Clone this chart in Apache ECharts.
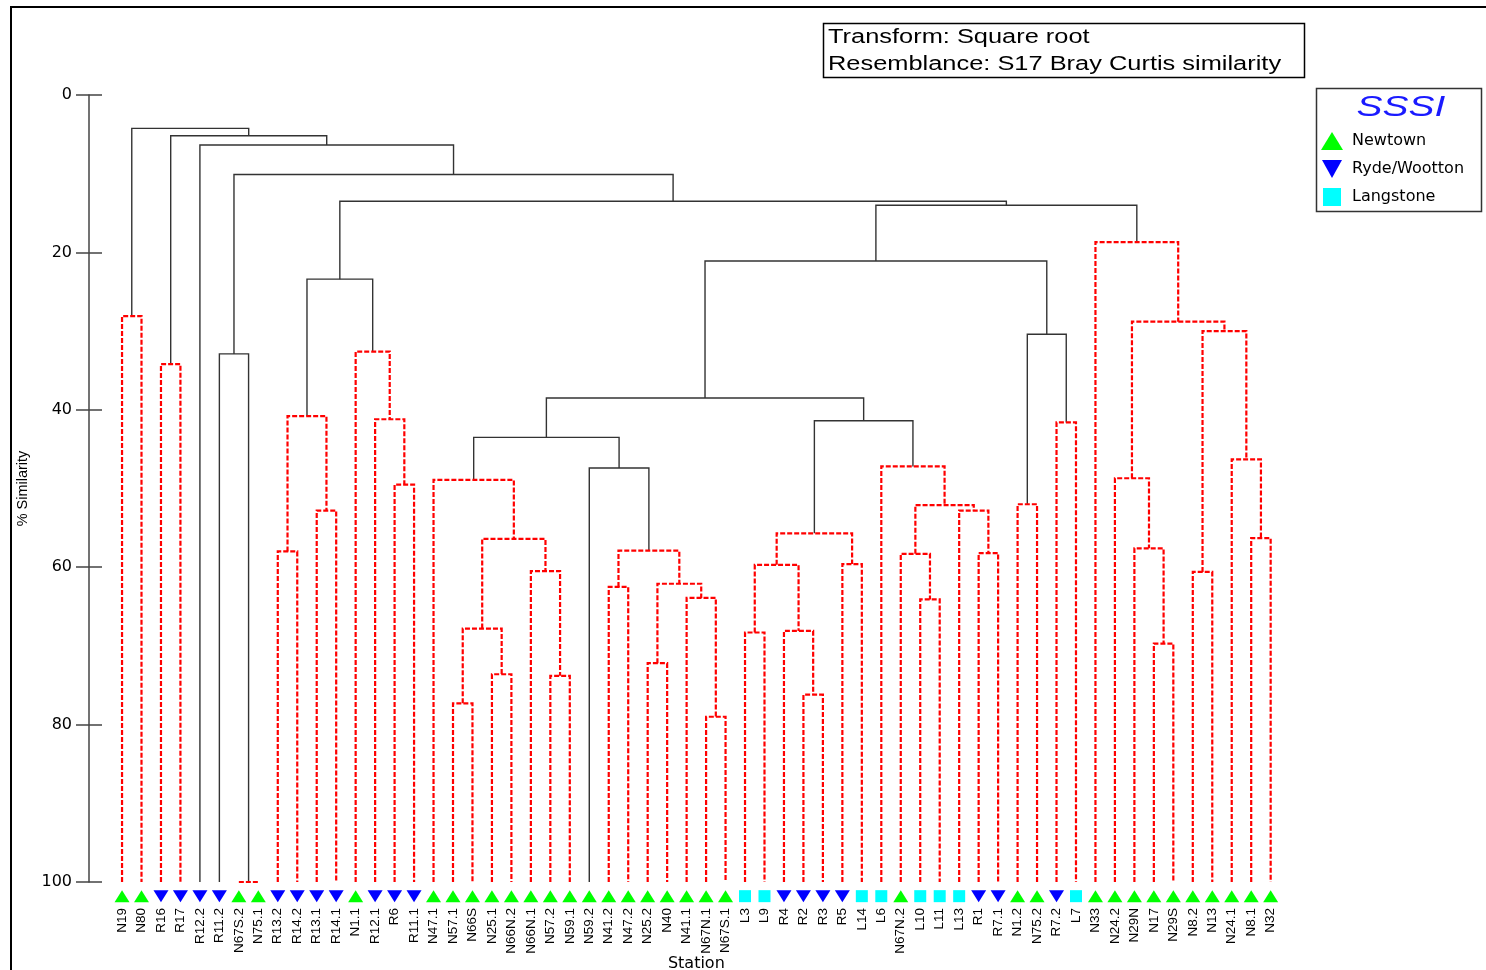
<!DOCTYPE html>
<html><head><meta charset="utf-8">
<script src="https://cdn.jsdelivr.net/npm/echarts@6/dist/echarts.min.js"></script>
<style>html,body{margin:0;padding:0;background:#fff}#c{width:1486px;height:970px}</style>
</head><body><div id="c"></div>
<script>
// ---- data ----
const leaves = ['N19','N80','R16','R17','R12.2','R11.2','N67S.2','N75.1','R13.2','R14.2','R13.1','R14.1','N1.1','R12.1','R6','R11.1',
  'N47.1','N57.1','N66S','N25.1','N66N.2','N66N.1','N57.2','N59.1','N59.2','N41.2','N47.2','N25.2','N40','N41.1','N67N.1','N67S.1',
  'L3','L9','R4','R2','R3','R5','L14','L6','N67N.2','L10','L11','L13','R1','R7.1','N1.2','N75.2','R7.2','L7',
  'N33','N24.2','N29N','N17','N29S','N8.2','N13','N24.1','N8.1','N32'];
const sites = ['N','N','R','R','R','R','N','N','R','R','R','R','N','R','R','R',
  'N','N','N','N','N','N','N','N','N','N','N','N','N','N','N','N',
  'L','L','R','R','R','R','L','L','N','L','L','L','R','R','N','N','R','L',
  'N','N','N','N','N','N','N','N','N','N'];
const siteNames = {N:'Newtown', R:'Ryde/Wootton', L:'Langstone'};
const siteOrder = ['N','R','L'];
const yTicks = [0,20,40,60,80,100];
const noteLines = ['Transform: Square root','Resemblance: S17 Bray Curtis similarity'];
const legendTitle = 'SSSI';
const xName = 'Station';
const yName = '% Similarity';
// merges: [id, childA, childB, % similarity, significant(1 = solid black, 0 = red dashed)]
const merges = [
  ['A','N19','N80',28.1,0],
  ['B','R16','R17',34.2,0],
  ['C','N67S.2','N75.1',100.0,0],
  ['D','R11.2','C',32.9,1],
  ['E','R13.2','R14.2',58.0,0],
  ['F','R13.1','R14.1',52.8,0],
  ['G','E','F',40.8,0],
  ['H','R6','R11.1',49.5,0],
  ['I','R12.1','H',41.2,0],
  ['J','N1.1','I',32.6,0],
  ['K','G','J',23.4,1],
  ['L1','N57.1','N66S',77.3,0],
  ['L2','N25.1','N66N.2',73.6,0],
  ['L3m','L1','L2',67.8,0],
  ['L4','N57.2','N59.1',73.8,0],
  ['L5','N66N.1','L4',60.5,0],
  ['L6m','L3m','L5',56.4,0],
  ['L7m','N47.1','L6m',48.9,0],
  ['M1','N41.2','N47.2',62.5,0],
  ['M2','N25.2','N40',72.2,0],
  ['M3','N67N.1','N67S.1',79.0,0],
  ['M4','N41.1','M3',63.9,0],
  ['M5','M2','M4',62.1,0],
  ['M6','M1','M5',57.9,0],
  ['M7','N59.2','M6',47.4,1],
  ['M8','L7m','M7',43.5,1],
  ['P1','L3','L9',68.3,0],
  ['P2','R2','R3',76.2,0],
  ['P3','R4','P2',68.1,0],
  ['P4','P1','P3',59.7,0],
  ['P5','R5','L14',59.6,0],
  ['P6','P4','P5',55.7,0],
  ['Q1','L10','L11',64.1,0],
  ['Q2','N67N.2','Q1',58.3,0],
  ['Q3','R1','R7.1',58.2,0],
  ['Q4','L13','Q3',52.8,0],
  ['Q5','Q2','Q4',52.1,0],
  ['Q6','L6','Q5',47.2,0],
  ['Q7','P6','Q6',41.4,1],
  ['R1m','M8','Q7',38.5,1],
  ['S1','N1.2','N75.2',52.0,0],
  ['S2','R7.2','L7',41.6,0],
  ['S3','S1','S2',30.4,1],
  ['S4','R1m','S3',21.1,1],
  ['T1','N17','N29S',69.7,0],
  ['T2','N29N','T1',57.6,0],
  ['T3','N24.2','T2',48.7,0],
  ['T4','N8.2','N13',60.6,0],
  ['T5','N8.1','N32',56.3,0],
  ['T6','N24.1','T5',46.3,0],
  ['T7','T4','T6',30.0,0],
  ['T8','T3','T7',28.8,0],
  ['T9','N33','T8',18.7,0],
  ['U1','S4','T9',14.0,1],
  ['U2','K','U1',13.5,1],
  ['U3','D','U2',10.1,1],
  ['U4','R12.2','U3',6.35,1],
  ['U5','B','U4',5.17,1],
  ['U6','A','U5',4.24,1]
];

// ---- build ----
const node = {};
leaves.forEach((n,i)=>{ node[n] = {x:i, h:100}; });
const solidSegs = [], dashSegs = [];
merges.forEach(([id,a,b,h,sig])=>{
  const na = node[a], nb = node[b];
  node[id] = {x:(na.x+nb.x)/2, h:h};
  const seg = {coords:[[na.x,na.h],[na.x,h],[nb.x,h],[nb.x,nb.h]]};
  (sig ? solidSegs : dashSegs).push(seg);
});
const markerRow = 101.8;
const symbols = {N:'triangle', R:'path://M0,0L10,0L5,9Z', L:'path://M0,0L10,0L10,10L0,10Z'};
const symbolSizes = {N:[15,12], R:[15,12], L:[12,12]};
const colors = {N:'#00ff00', R:'#0000ff', L:'#00ffff'};
const scatterSeries = siteOrder.map(s=>({
  type:'scatter', name:siteNames[s], xAxisIndex:1, yAxisIndex:0, clip:false, silent:true,
  symbol:symbols[s], symbolSize:symbolSizes[s], symbolKeepAspect:false,
  itemStyle:{color:colors[s], opacity:1},
  data: leaves.map((n,i)=> sites[i]===s ? [i, markerRow] : null).filter(d=>d)
}));

const chart = echarts.init(document.getElementById('c'));
const option = {
  animation:false,
  backgroundColor:'#fff',
  grid:{left:112.3, right:205.6, top:95, bottom:88, containLabel:false, outerBoundsMode:'none'},
  xAxis:[
    {type:'category', data:leaves, boundaryGap:true,
     axisLine:{show:false}, axisTick:{show:false}, splitLine:{show:false},
     axisLabel:{interval:0, rotate:90, margin:26, fontFamily:'Liberation Sans', fontSize:13.5, color:'#000'},
     name:xName, nameLocation:'middle', nameGap:74, nameMoveOverlap:false,
     nameTextStyle:{fontFamily:'DejaVu Sans', fontSize:16, color:'#000'}},
    {type:'value', min:-0.5, max:leaves.length-0.5, show:false}
  ],
  yAxis:[
    {type:'value', inverse:true, min:yTicks[0], max:yTicks[yTicks.length-1], interval:yTicks[1]-yTicks[0],
     position:'left', offset:23.3,
     axisLine:{show:true, onZero:false, lineStyle:{color:'#444', width:1.5}},
     axisTick:{show:true, length:13, lineStyle:{color:'#444', width:1.5}},
     axisLabel:{margin:17, fontFamily:'DejaVu Sans', fontSize:16, color:'#000'},
     splitLine:{show:false},
     name:yName, nameLocation:'middle', nameGap:58,
     nameTextStyle:{fontFamily:'Liberation Sans', fontSize:14.5, color:'#000'}},
    {type:'value', inverse:true, min:yTicks[0], max:yTicks[yTicks.length-1], interval:yTicks[1]-yTicks[0],
     position:'left', offset:23.3,
     axisLine:{show:false, onZero:false}, axisLabel:{show:false}, splitLine:{show:false},
     axisTick:{show:true, inside:true, length:13, lineStyle:{color:'#444', width:1.5}}}
  ],
  legend:{orient:'vertical', left:1321, top:132, padding:0, itemWidth:22, itemHeight:18, itemGap:10, selectedMode:false,
    textStyle:{fontFamily:'DejaVu Sans', fontSize:16, color:'#000', padding:[0,0,0,4]},
    data:siteOrder.map(s=>({name:siteNames[s], icon:symbols[s]}))},
  graphic:[
    {type:'rect', z:-10, silent:true, shape:{x:11,y:7,width:1500,height:1000}, style:{fill:'rgba(0,0,0,0)', stroke:'#000', lineWidth:2}},
    {type:'rect', silent:true, shape:{x:823.5,y:23.5,width:481,height:54}, style:{fill:'#fff', stroke:'#000', lineWidth:1.5}},
    {type:'text', silent:true, x:828, y:37, scaleX:1.27, style:{text:noteLines[0], font:'20px "Liberation Sans"', fill:'#000', textAlign:'left', textVerticalAlign:'middle', align:'left', verticalAlign:'middle'}},
    {type:'text', silent:true, x:828, y:64, scaleX:1.27, style:{text:noteLines[1], font:'20px "Liberation Sans"', fill:'#000', textAlign:'left', textVerticalAlign:'middle', align:'left', verticalAlign:'middle'}},
    {type:'rect', silent:true, shape:{x:1316.5,y:88.5,width:165,height:123}, style:{fill:'rgba(0,0,0,0)', stroke:'#333', lineWidth:1.5}},
    {type:'text', silent:true, x:1401, y:108, scaleX:1.3, style:{text:legendTitle, font:'italic 30px "Liberation Sans"', fill:'#1a1aff', textAlign:'center', textVerticalAlign:'middle', align:'center', verticalAlign:'middle'}}
  ],
  series:[
    {type:'lines', coordinateSystem:'cartesian2d', xAxisIndex:1, yAxisIndex:0, polyline:true, silent:true,
     lineStyle:{color:'#333', width:1.4, opacity:1, type:'solid'}, data:solidSegs},
    {type:'lines', coordinateSystem:'cartesian2d', xAxisIndex:1, yAxisIndex:0, polyline:true, silent:true,
     lineStyle:{color:'#ff0000', width:2.2, opacity:1, type:[5,2]}, data:dashSegs}
  ].concat(scatterSeries)
};
chart.setOption(option);
</script>
</body></html>
